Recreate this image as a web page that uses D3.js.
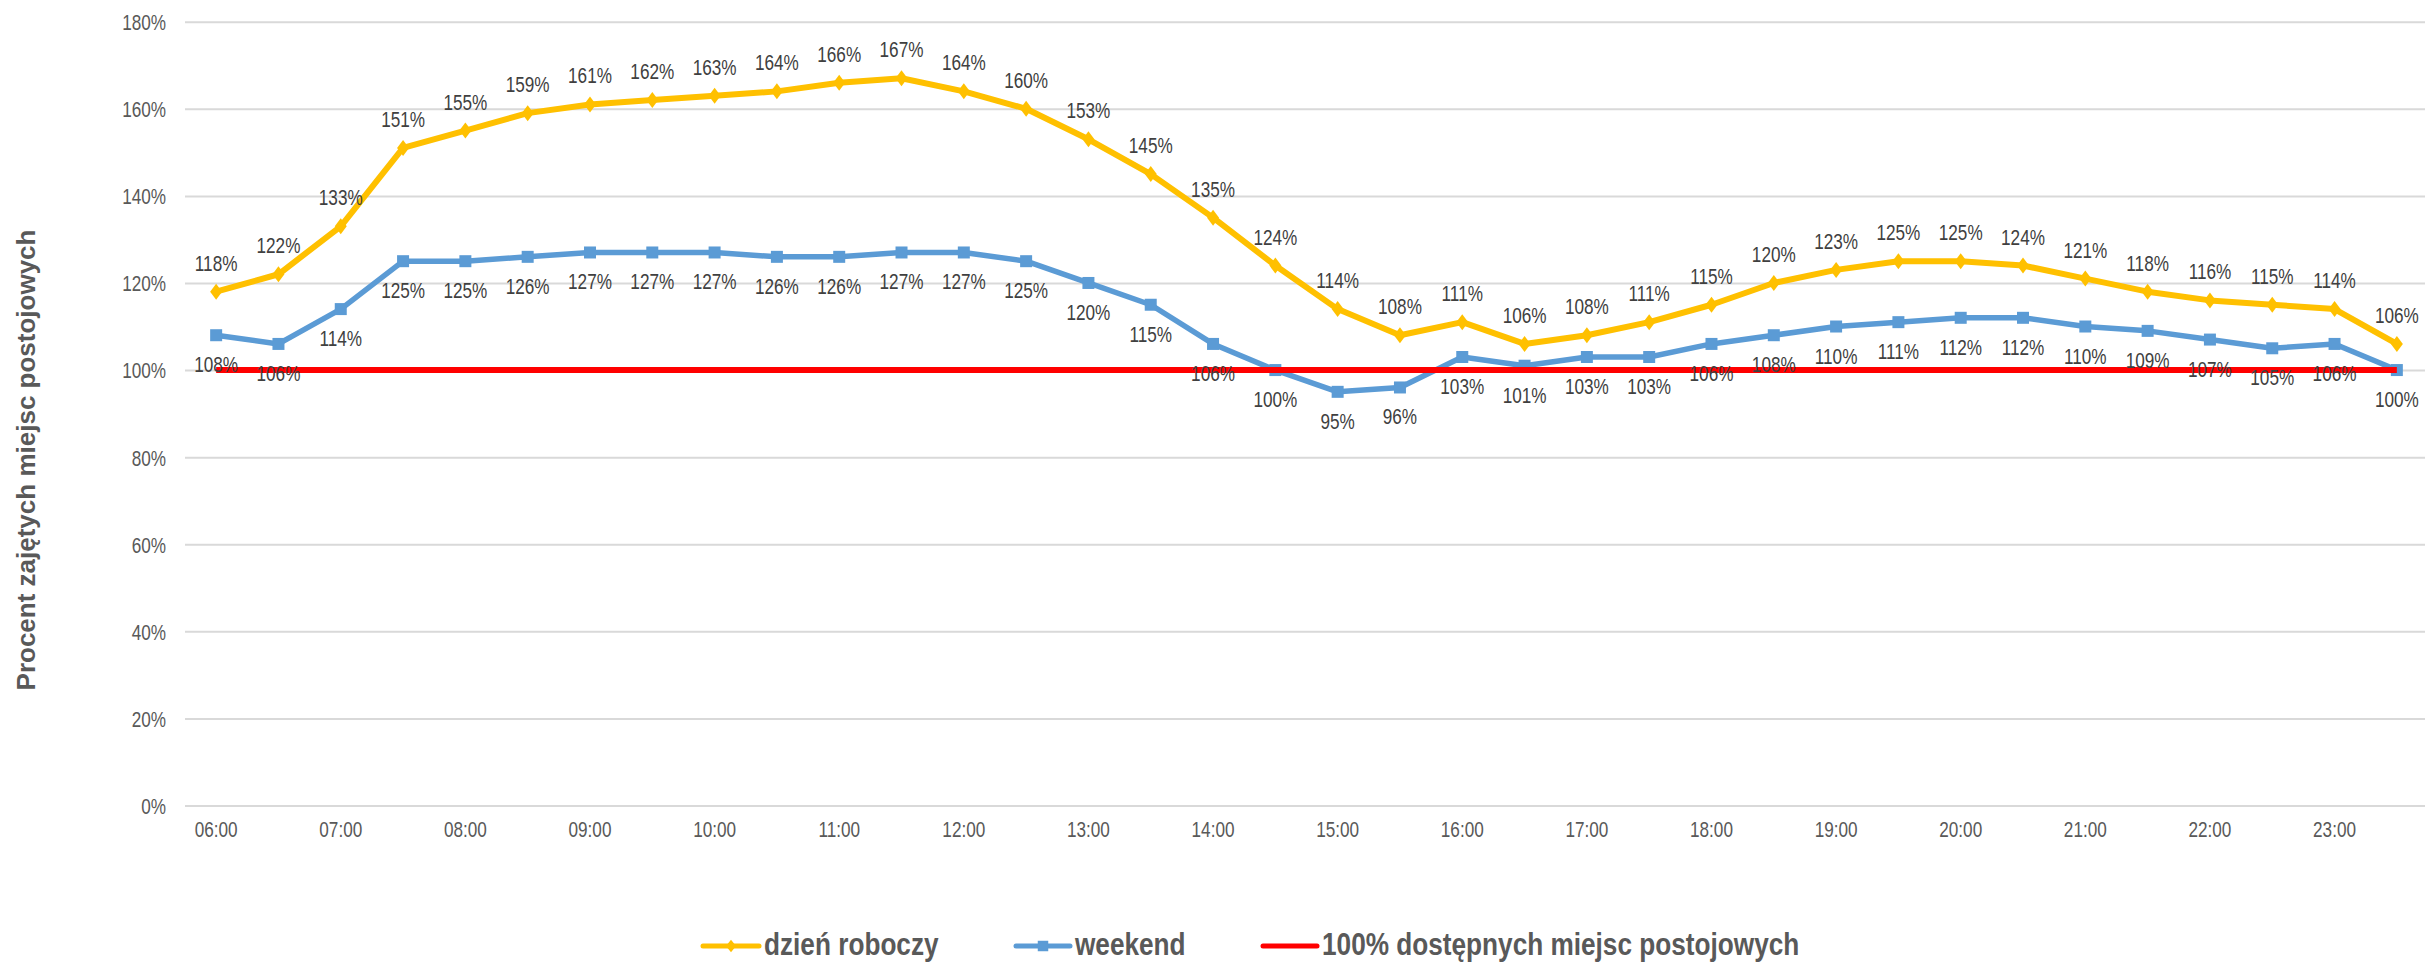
<!DOCTYPE html>
<html><head><meta charset="utf-8">
<script src="https://cdn.jsdelivr.net/npm/d3@7"></script>
<style>
html,body{margin:0;padding:0;background:#fff;}
svg{display:block;}
text{font-family:"Liberation Sans",Arial,sans-serif;}
</style></head>
<body><svg id="chart" width="2425" height="963"></svg>
<script>
const categories = ["06:00","06:30","07:00","07:30","08:00","08:30","09:00","09:30","10:00","10:30","11:00","11:30","12:00","12:30","13:00","13:30","14:00","14:30","15:00","15:30","16:00","16:30","17:00","17:30","18:00","18:30","19:00","19:30","20:00","20:30","21:00","21:30","22:00","22:30","23:00","23:30"];
const weekday = [118,122,133,151,155,159,161,162,163,164,166,167,164,160,153,145,135,124,114,108,111,106,108,111,115,120,123,125,125,124,121,118,116,115,114,106];
const weekend = [108,106,114,125,125,126,127,127,127,126,126,127,127,125,120,115,106,100,95,96,103,101,103,103,106,108,110,111,112,112,110,109,107,105,106,100];
const capacity = categories.map(() => 100);
const yTicks = [0,20,40,60,80,100,120,140,160,180];
const xTickLabels = categories.filter((c,i) => i % 2 === 0);
const seriesNames = ["dzień roboczy","weekend","100% dostępnych miejsc postojowych"];
const yTitle = "Procent zajętych miejsc postojowych";

const SX = 0.78;   // horizontal squeeze of the original's text
const svg = d3.select("#chart");
const plotLeft = 185, plotRight = 2428, plotTop = 21.7, plotBottom = 805.5;
const x = d3.scaleBand().domain(categories).range([plotLeft, plotRight]).padding(0);
const cx = c => x(c) + x.bandwidth()/2;
const y = d3.scaleLinear().domain([0,180]).range([plotBottom, plotTop]);

// gridlines + y axis
const yAxis = svg.append("g").attr("transform", `translate(${plotLeft},0)`)
  .call(d3.axisLeft(y).tickValues(yTicks).tickFormat(d => d + "%").tickSize(-(plotRight-plotLeft)).tickPadding(19));
yAxis.select(".domain").remove();
yAxis.selectAll(".tick line").attr("stroke", "#D9D9D9").attr("stroke-width", 2);
yAxis.selectAll(".tick text").attr("fill", "#595959").style("font-size", "22px")
  .attr("x", 0).attr("dy", "0.36em").attr("transform", `translate(-19,0) scale(${SX},1)`);

// x axis
const xAxis = svg.append("g").attr("transform", `translate(0,${plotBottom})`)
  .call(d3.axisBottom(x).tickValues(xTickLabels).tickSize(0).tickPadding(16));
xAxis.select(".domain").remove();
xAxis.selectAll(".tick text").attr("fill", "#595959").style("font-size", "22px")
  .attr("transform", `scale(${SX},1)`);

// y title
svg.append("text").attr("transform", `translate(35,460) rotate(-90)`)
  .attr("text-anchor", "middle").attr("fill", "#595959")
  .style("font-size", "26px").style("font-weight", "bold").text(yTitle);

const line = d3.line().x((d,i) => cx(categories[i])).y(d => y(d));

// weekday
svg.append("path").datum(weekday).attr("d", line).attr("fill","none")
  .attr("stroke","#FFC000").attr("stroke-width",6).attr("stroke-linejoin","round");
svg.append("g").selectAll("path").data(weekday).join("path")
  .attr("d", d3.symbol(d3.symbolSquare, 128))
  .attr("transform", (d,i) => `translate(${cx(categories[i])},${y(d)}) scale(0.75,1) rotate(45)`)
  .attr("fill","#FFC000");

// weekend
svg.append("path").datum(weekend).attr("d", line).attr("fill","none")
  .attr("stroke","#5B9BD5").attr("stroke-width",5.5).attr("stroke-linejoin","round");
svg.append("g").selectAll("path").data(weekend).join("path")
  .attr("d", d3.symbol(d3.symbolSquare, 144))
  .attr("transform", (d,i) => `translate(${cx(categories[i])},${y(d)})`)
  .attr("fill","#5B9BD5");

// capacity line
svg.append("path").datum(capacity).attr("d", line).attr("fill","none")
  .attr("stroke","#FF0000").attr("stroke-width",6);

// labels
svg.append("g").selectAll("text").data(weekday).join("text")
  .attr("transform", (d,i) => `translate(${cx(categories[i])},${y(d) - 21}) scale(${SX},1)`)
  .attr("text-anchor","middle").attr("fill","#404040").style("font-size","22px")
  .text(d => d + "%");
svg.append("g").selectAll("text").data(weekend).join("text")
  .attr("transform", (d,i) => `translate(${cx(categories[i])},${y(d) + 37}) scale(${SX},1)`)
  .attr("text-anchor","middle").attr("fill","#404040").style("font-size","22px")
  .text(d => d + "%");

// legend
const legY = 946, legBase = 955;
const legend = [
  {name: seriesNames[0], color: "#FFC000", x0: 703, x1: 759, marker: "diamond"},
  {name: seriesNames[1], color: "#5B9BD5", x0: 1016, x1: 1070, marker: "square"},
  {name: seriesNames[2], color: "#FF0000", x0: 1263, x1: 1317, marker: null}
];
const lg = svg.append("g").selectAll("g").data(legend).join("g");
lg.append("line").attr("x1", d => d.x0).attr("x2", d => d.x1).attr("y1", legY).attr("y2", legY)
  .attr("stroke", d => d.color).attr("stroke-width", 5).attr("stroke-linecap","round");
lg.filter(d => d.marker).append("path")
  .attr("d", d => d3.symbol(d3.symbolSquare, d.marker === "diamond" ? 80 : 110)())
  .attr("transform", d => `translate(${(d.x0+d.x1)/2},${legY})` + (d.marker === "diamond" ? " scale(0.8,1) rotate(45)" : ""))
  .attr("fill", d => d.color);
lg.append("text").attr("transform", d => `translate(${d.x1 + 5},${legBase}) scale(0.845,1)`)
  .attr("fill","#595959").style("font-size","31px").style("font-weight","bold")
  .text(d => d.name);
</script></body></html>
